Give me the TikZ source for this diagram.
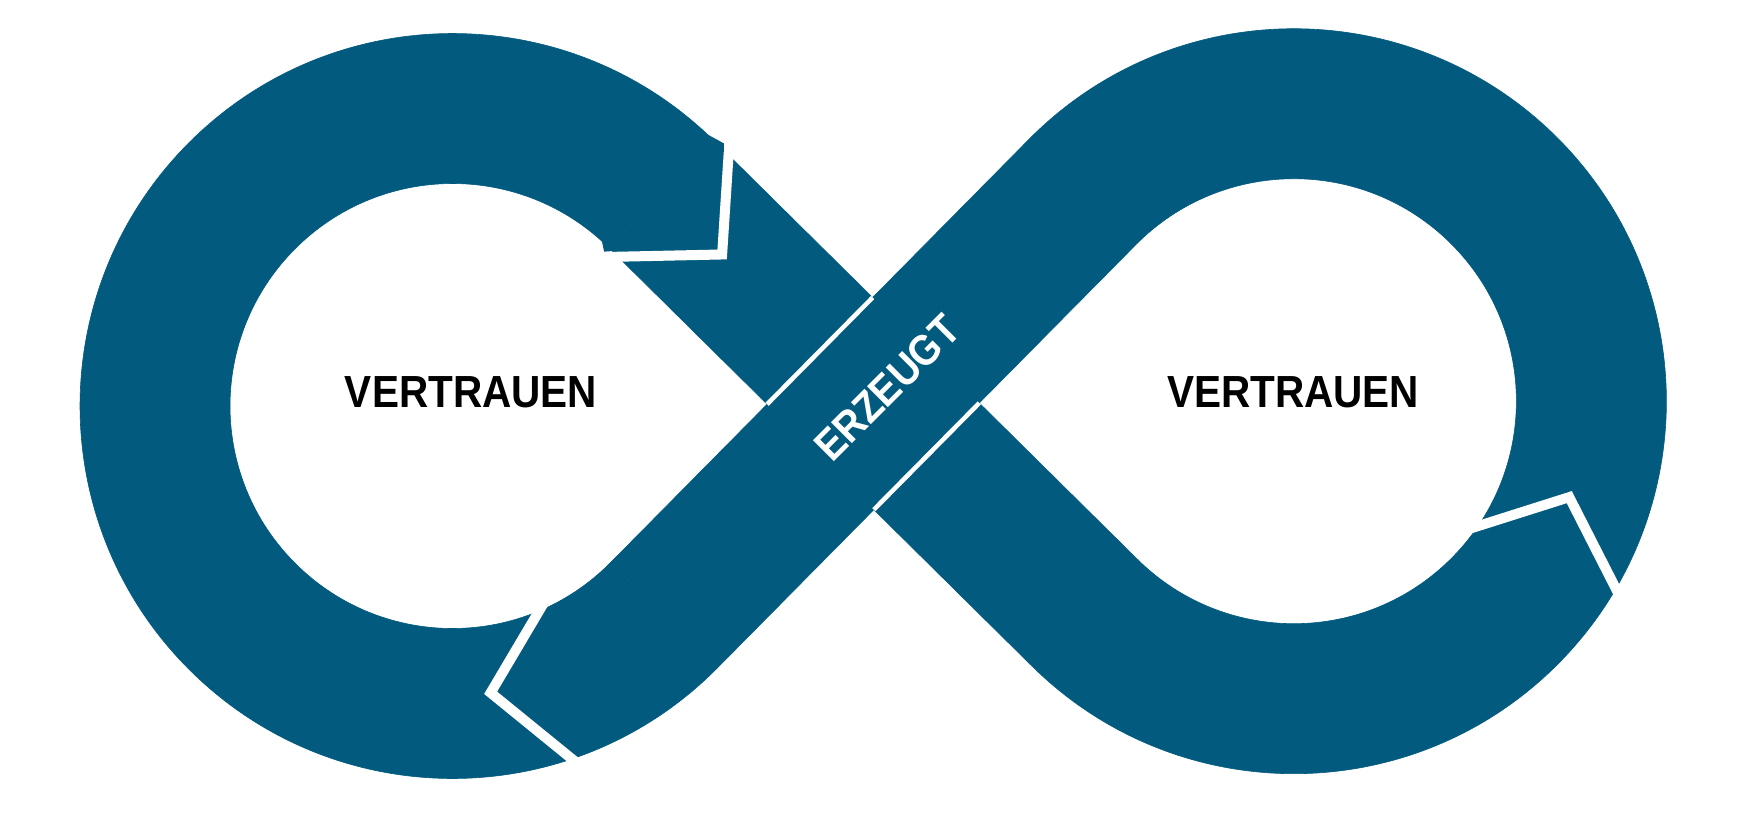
\documentclass[tikz,border=0pt]{standalone}
\usepackage{fontspec}
\setmainfont{Liberation Sans}
\newfontfamily\wordfont{Liberation Sans}[FakeStretch=0.9]
\definecolor{loopblue}{RGB}{2,91,126}
\tikzset{
  band/.style={fill=loopblue, draw=loopblue, line width=0.6},
  gap/.style={draw=white, line width=4.5},
  chev/.style={draw=white, line width=10, line join=miter},
  barb/.style={fill=loopblue},
  word/.style={font=\wordfont\fontsize{45}{45}\selectfont\bfseries, inner sep=0pt, anchor=base},
}
\begin{document}
\begin{tikzpicture}[x=1pt,y=-1pt]
\useasboundingbox (0,0) rectangle (1756,815);
\begin{scope}[shift={(452.5,406)}, rotate=0.327]
  % left loop
  \path[band] (263.4,-263.4) arc[start angle=-45,end angle=-315,radius=372.5]
     -- (157.33,157.33) arc[start angle=45,end angle=315,radius=222.5] -- cycle;
  % right loop
  \path[band] (578.06,-263.4) arc[start angle=-135,end angle=135,radius=372.5]
     -- (684.13,157.33) arc[start angle=135,end angle=-135,radius=222.5] -- cycle;
  % under band
  \path[band] (263.4,-263.4) -- (684.13,157.33) -- (578.06,263.4) -- (157.33,-157.33) -- cycle;
  % over band
  \path[band] (263.4,263.4) -- (684.13,-157.33) -- (578.06,-263.4) -- (157.33,157.33) -- cycle;
  % crossing gaps
  \draw[gap] (314.66,0) -- (420.73,-106.07);
  \draw[gap] (420.73,106.07) -- (526.8,0);
  % arrow joints
  \draw[chev] (145.5,-148) -- (270.5,-150) -- (279,-271);
  \path[barb] (-46.5:372.5) -- (273,-261) -- (272.7,-252.7) -- (263.4,-263.4)
     arc[start angle=-45,end angle=-46.5,radius=372.5] -- cycle;
  \path[barb] (-47.5:222.5) -- (152.5,-153.5) -- (160.5,-154) -- (157.33,-157.33)
     arc[start angle=-45,end angle=-47.5,radius=222.5] -- cycle;
  \draw[chev] (91.6,195.1) -- (36.5,287) -- (123.2,358.4);
  \draw[chev] (1014.36,129.2) -- (1116.26,97.5) -- (1166.56,197.7);
\end{scope}
\node[word] (vl) at (471,407.5) {VERTRAUEN};
\node[word] (vr) at (1293,407.5) {VERTRAUEN};
\node[word, anchor=center, text=white, font=\wordfont\fontsize{43}{43}\selectfont\bfseries, rotate=45] (erz) at (887,388) {ERZEUGT};
\end{tikzpicture}
\end{document}
